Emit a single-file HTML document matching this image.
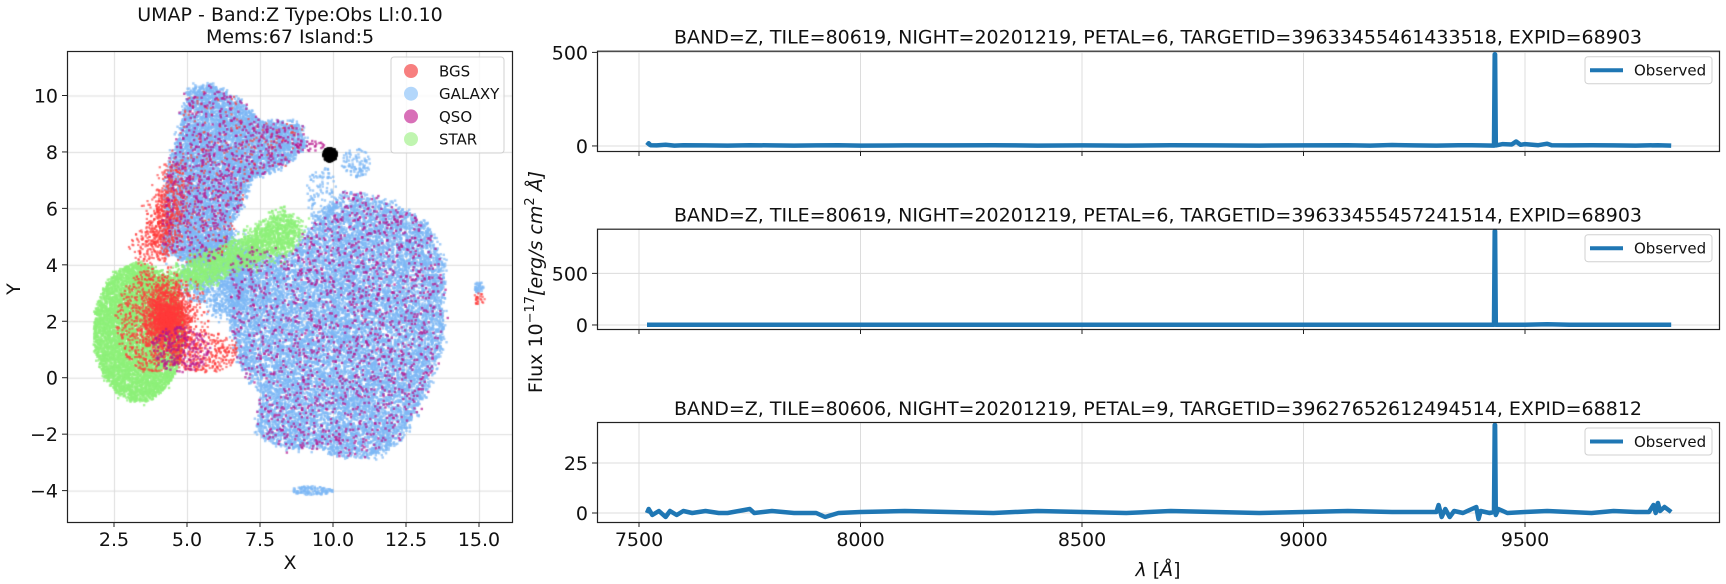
<!DOCTYPE html>
<html><head><meta charset="utf-8">
<style>
html,body{margin:0;padding:0;background:#fff;}
#wrap{position:relative;width:1726px;height:584px;overflow:hidden;font-family:"DejaVu Sans","Liberation Sans",sans-serif;}
canvas,svg{position:absolute;left:0;top:0;}
</style></head>
<body>
<div id="wrap">
<canvas id="sc" width="1726" height="584"></canvas>
<svg id="fig" width="1726" height="584" xmlns="http://www.w3.org/2000/svg"></svg>
</div>
<script>
// ---------- UMAP data (region descriptions) ----------
const umapClasses = ["BGS","GALAXY","QSO","STAR"];
const umapColors = ["#ff3b3b","#7db8f5","#b8178f","#8ef07a"];
const galaxyArm = [[4.2,4.5],[4.3,7],[4.8,9],[5.1,10.3],[5.8,10.4],[6.8,9.8],[7.5,9.1],[8.8,9.0],[9.1,8.3],[8.5,7.6],[7.2,7.0],[6.6,5.5],[6.3,4.3],[5.2,4.0]];
const galaxyMain = [[6.5,4.2],[7.2,4.6],[8.5,4.3],[9,5],[9.7,6],[10.5,6.6],[12,6.2],[13.2,5.5],[13.8,4.2],[13.8,1.5],[13.2,-0.5],[12.5,-2],[11.5,-2.8],[10.3,-2.8],[9.5,-2.5],[8.5,-2.6],[7.4,-2],[7.5,-0.5],[6.8,0.5],[6.5,2]];
const galaxyBridge = [[4.8,3.2],[6.3,2.2],[7,2.5],[7.2,4.6],[6.2,5],[5,4.6]];
const starArm = [[3.5,3.2],[5,4],[7,5],[8.2,5.9],[8.9,5.4],[8.5,4.5],[7,4],[5.5,3.3]];
const bgsArm = [[3.4,4.2],[4.4,4.6],[4.8,7],[4.6,7.8],[4.0,6]];
const starBlob = [3.35,1.6,1.5,2.4];
const bgsBlob = [4.3,2.1,1.1,1.4];
const blackBlob = [9.9,7.9,0.22,0.22];
const counts = {galArm:7500, galMain:15000, galBridge:1500, star:6500, starArm:2000, bgs:2200, bgsArm:700, qso:2200, black:200};

// ---------- Spectra data ----------
const spec1Wave = [7518,7522,7526,7540,7560,7580,7600,7650,7700,7750,7800,7850,7900,7950,8000,8100,8200,8300,8400,8500,8600,8700,8800,8900,9000,9100,9150,9200,9250,9300,9350,9380,9400,9430,9431.5,9432.5,9434,9450,9470,9480,9490,9500,9530,9550,9560,9600,9650,9700,9750,9800,9830];
const spec1Flux = [3,14,4,3,6,2,4,3,2,4,3,2,3,4,2,3,3,4,2,3,2,4,3,2,3,4,2,5,3,2,4,4,3,2,490,490,3,10,8,24,6,10,4,12,4,3,4,3,2,4,2];
const spec2Wave = [7518,7600,7800,8000,8200,8400,8600,8800,9000,9200,9400,9430,9431.5,9432.5,9434,9500,9550,9600,9700,9830];
const spec2Flux = [2,3,2,2,2,2,2,2,2,2,2,2,910,910,2,2,8,2,2,2];
const spec3Wave = [7518,7522,7530,7545,7560,7570,7585,7600,7620,7650,7680,7700,7750,7760,7800,7850,7900,7920,7950,8000,8100,8200,8300,8400,8500,8600,8700,8800,8900,9000,9100,9200,9300,9305,9312,9320,9330,9340,9360,9390,9395,9400,9420,9430,9431.5,9432.5,9434,9440,9460,9500,9550,9600,9650,9700,9750,9780,9790,9795,9800,9805,9815,9830];
const spec3Flux = [0,2,-1,1,-2,1,-1,1,0,1,0,0,2,0,1,0,0,-2,0,0.5,1,0.5,0,1,0.5,0,1,0.5,0,0.5,1,0.5,0.5,4,-2,2,-2,1,0,3,-3,1,0,0.5,44,44,-1,2,0,0.5,1,0.5,0,1,0.5,0.5,4,0,5,1,3,0.5];
const specTitles = [
 "BAND=Z, TILE=80619, NIGHT=20201219, PETAL=6, TARGETID=39633455461433518, EXPID=68903",
 "BAND=Z, TILE=80619, NIGHT=20201219, PETAL=6, TARGETID=39633455457241514, EXPID=68903",
 "BAND=Z, TILE=80606, NIGHT=20201219, PETAL=9, TARGETID=39627652612494514, EXPID=68812"];
const specYTicks = [[0,500],[0,500],[0,25]];
const specYRange = [[-27,509],[-39,933],[-4.5,45.5]];
const specXTicks = [7500,8000,8500,9000,9500];
const umapXTicks = [2.5,5.0,7.5,10.0,12.5,15.0];
const umapYTicks = [-4,-2,0,2,4,6,8,10];

// ---------- helpers ----------
const NS="http://www.w3.org/2000/svg";
const svg=document.getElementById('fig');
function mk(tag,attrs,parent,text){const e=document.createElementNS(NS,tag);for(const k in attrs)e.setAttribute(k,attrs[k]);if(text!==undefined)e.textContent=text;(parent||svg).appendChild(e);return e;}

// ---------- UMAP axes ----------
const UL=67,UR=512,UT=51,UB=522;
const ux=v=>114+(v-2.5)*(479-114)/12.5;
const uy=v=>95.5+(10-v)*(490.6-95.5)/14;

const ctx=document.getElementById('sc').getContext('2d');
let seed=12345;
function rnd(){seed|=0;seed=seed+0x6D2B79F5|0;let t=Math.imul(seed^seed>>>15,1|seed);t=t+Math.imul(t^t>>>7,61|t)^t;return((t^t>>>14)>>>0)/4294967296;}
function gn(){return (rnd()+rnd()+rnd()+rnd()-2)/0.577;}
function inPoly(p,poly){let c=false;for(let i=0,j=poly.length-1;i<poly.length;j=i++){const a=poly[i],b=poly[j];if((a[1]>p[1])!==(b[1]>p[1])&&p[0]<(b[0]-a[0])*(p[1]-a[1])/(b[1]-a[1])+a[0])c=!c;}return c;}
function polyPts(poly,n,j){j=j||0.15;const xs=poly.map(p=>p[0]),ys=poly.map(p=>p[1]);const x0=Math.min(...xs),x1=Math.max(...xs),y0=Math.min(...ys),y1=Math.max(...ys);const out=[];let g=0;while(out.length<n&&g<n*20){g++;const p=[x0+rnd()*(x1-x0),y0+rnd()*(y1-y0)];if(inPoly(p,poly))out.push([p[0]+gn()*j*0.5,p[1]+gn()*j*0.5]);}return out;}
function blobPts(b,n,gauss){const out=[];for(let i=0;i<n;i++){let r=gauss?Math.min(1.3,Math.abs(gn())*0.55):Math.sqrt(rnd())+Math.abs(gn())*0.03;const a=rnd()*6.2832;out.push([b[0]+Math.cos(a)*r*b[2],b[1]+Math.sin(a)*r*b[3]]);}return out;}
function draw(pts,col,alpha,s){ctx.fillStyle=col;ctx.globalAlpha=alpha;ctx.save();ctx.beginPath();ctx.rect(UL,UT,UR-UL,UB-UT);ctx.clip();for(const p of pts){ctx.fillRect(ux(p[0])-s/2,uy(p[1])-s/2,s,s);}ctx.restore();ctx.globalAlpha=1;}
ctx.strokeStyle="#dcdcdc";ctx.lineWidth=1;
umapXTicks.forEach(v=>{ctx.beginPath();ctx.moveTo(ux(v)+.5,UT);ctx.lineTo(ux(v)+.5,UB);ctx.stroke();});
umapYTicks.forEach(v=>{ctx.beginPath();ctx.moveTo(UL,uy(v)+.5);ctx.lineTo(UR,uy(v)+.5);ctx.stroke();});
const gal=polyPts(galaxyArm,counts.galArm).concat(polyPts(galaxyMain,counts.galMain),polyPts(galaxyBridge,counts.galBridge,0.4));
gal.push(...blobPts([15,3.2,0.15,0.2],40),...blobPts([9.3,-4,0.7,0.15],120),...blobPts([10.8,7.6,0.5,0.5],100),...blobPts([9.6,6.5,0.5,1.0],120));
draw(gal,umapColors[1],0.7,2.4);
const st=blobPts(starBlob,counts.star).concat(polyPts(starArm,counts.starArm,0.3));
draw(st,umapColors[3],0.75,2.4);
const bg=blobPts(bgsBlob,counts.bgs,true).concat(polyPts(bgsArm,counts.bgsArm,0.5),polyPts(galaxyArm,300),blobPts([15,2.8,0.2,0.2],25),blobPts([5.6,0.9,1.2,0.7],350),blobPts([3.8,2,1.2,1.8],500));
draw(bg,umapColors[0],0.65,2.2);
const qs=polyPts(galaxyMain,counts.qso*0.7).concat(polyPts(galaxyArm,counts.qso*0.3),blobPts([9.2,8.2,0.5,0.2],25),blobPts([4.8,1.0,1.0,0.8],200));
draw(qs,umapColors[2],0.7,2.4);
draw(blobPts(blackBlob,counts.black),"#000",1,3);

const ug=mk('g',{});
mk('rect',{x:UL+.5,y:UT+.5,width:UR-UL,height:UB-UT,fill:'none',stroke:'#222','stroke-width':1.2,},ug);
umapXTicks.forEach(v=>{const x=ux(v);mk('line',{x1:x,x2:x,y1:UB,y2:UB+5,stroke:'#222'},ug);mk('text',{x:x,y:UB+24,'text-anchor':'middle','font-size':19,fill:'#111',},ug,v.toFixed(1));});
umapYTicks.forEach(v=>{const y=uy(v);mk('line',{x1:UL-5,x2:UL,y1:y,y2:y,stroke:'#222'},ug);mk('text',{x:UL-9,y:y+7,'text-anchor':'end','font-size':19,fill:'#111',},ug,v<0?'\u2212'+Math.abs(v):String(v));});
mk('text',{x:290,y:21,'text-anchor':'middle','font-size':19,fill:'#111','xml:space':'preserve',},ug,"UMAP  -  Band:Z Type:Obs Ll:0.10");
mk('text',{x:290,y:43,'text-anchor':'middle','font-size':19,fill:'#111',},ug,"Mems:67 Island:5");
mk('text',{x:290,y:569,'text-anchor':'middle','font-size':19,fill:'#111',},ug,"X");
mk('text',{x:20,y:289,'text-anchor':'middle','font-size':19,fill:'#111',transform:'rotate(-90 20 289)',},ug,"Y");
const lg=mk('g',{},ug);
mk('rect',{x:391,y:57,width:113,height:96,rx:3,fill:'#fff','fill-opacity':0.8,stroke:'#d0d0d0',},lg);
const legCols=["#f77f7f","#b3d7fb","#d870b8","#c0f5b0"];
umapClasses.forEach((c,i)=>{const y=71+i*22.7;mk('circle',{cx:411,cy:y,r:7,fill:legCols[i],},lg);mk('text',{x:439,y:y+5.5,'font-size':15,fill:'#111',},lg,c);});

// ---------- Spectra ----------
const SL=597,SR=1719;
const sx=w=>639+(w-7500)*(1525-639)/2000;
const panels=[[50.7,151],[228.7,329],[422,522]];
const waves=[spec1Wave,spec2Wave,spec3Wave],fluxes=[spec1Flux,spec2Flux,spec3Flux];
panels.forEach((p,i)=>{
  const [T,B]=p,[y0,y1]=specYRange[i];
  const sy=v=>B-(v-y0)/(y1-y0)*(B-T);
  const g=mk('g',{});
  specXTicks.forEach(w=>mk('line',{x1:sx(w),x2:sx(w),y1:T,y2:B,stroke:'#dcdcdc','stroke-width':1},g));
  specYTicks[i].forEach(v=>{mk('line',{x1:SL,x2:SR,y1:sy(v),y2:sy(v),stroke:'#dcdcdc','stroke-width':1},g);mk('line',{x1:SL-5,x2:SL,y1:sy(v),y2:sy(v),stroke:'#222'},g);mk('text',{x:SL-9,y:sy(v)+7,'text-anchor':'end','font-size':19,fill:'#111',},g,String(v));});
  specXTicks.forEach(w=>mk('line',{x1:sx(w),x2:sx(w),y1:B,y2:B+5,stroke:'#222'},g));
  const d=waves[i].map((w,k)=>(k?'L':'M')+sx(w).toFixed(1)+' '+sy(fluxes[i][k]).toFixed(1)).join(' ');
  mk('path',{d:d,fill:'none',stroke:'#1f77b4','stroke-width':4.5,'stroke-linejoin':'round',},g);
  mk('rect',{x:SL+.5,y:T+.5,width:SR-SL,height:B-T,fill:'none',stroke:'#222','stroke-width':1.2,},g);
  mk('text',{x:1158,y:T-7,'text-anchor':'middle','font-size':19,fill:'#111',},g,specTitles[i]);
  const lgg=mk('g',{},g);
  mk('rect',{x:1585,y:T+6,width:127,height:27,rx:3,fill:'#fff',stroke:'#d0d0d0'},lgg);
  mk('line',{x1:1590,x2:1623,y1:T+19.5,y2:T+19.5,stroke:'#1f77b4','stroke-width':4},lgg);
  mk('text',{x:1634,y:T+25,'font-size':15,fill:'#111',},lgg,"Observed");
});
specXTicks.forEach(w=>mk('text',{x:sx(w),y:546,'text-anchor':'middle','font-size':19,fill:'#111',},null,String(w)));
const xl=mk('text',{x:1158,y:576,'text-anchor':'middle','font-size':19,fill:'#111',});
xl.innerHTML='<tspan font-style="italic">λ</tspan> [<tspan font-style="italic">Å</tspan>]';
const yl=mk('text',{x:542,y:282,'text-anchor':'middle','font-size':19,fill:'#111',transform:'rotate(-90 542 282)',});
yl.innerHTML='Flux 10<tspan dy="-8" font-size="13">−17</tspan><tspan dy="8" font-style="italic">[erg/s cm</tspan><tspan dy="-8" font-size="13">2</tspan><tspan dy="8" font-style="italic"> Å]</tspan>';
</script>
</body></html>
